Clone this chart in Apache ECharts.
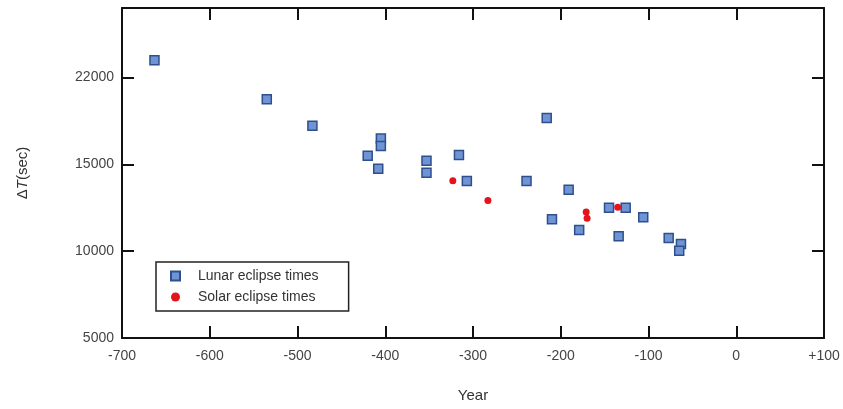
<!DOCTYPE html>
<html lang="en">

<head>
  <meta charset="UTF-8">
  <title>Delta T</title>
  <style>
    html, body { margin: 0; padding: 0; background: #fff; }
    #chart { width: 843px; height: 409px; }
  </style>
</head>

<body>
  <div id="chart"></div>
  <script src="https://cdn.jsdelivr.net/npm/echarts@6/dist/echarts.min.js"></script>
  <script>
    // data: [year, deltaT]
    var lunarData = [
      [-663, 20990], [-535, 18740], [-483, 17220], [-405, 16480], [-405, 16060],
      [-420, 15500], [-408, 14750], [-353, 15210], [-353, 14520], [-316, 15540],
      [-307, 14040], [-239, 14040], [-216, 17670], [-210, 11840], [-191, 13540],
      [-179, 11220], [-145, 12500], [-134, 10860], [-126, 12500], [-106, 11950],
      [-77, 10760], [-63, 10410], [-65, 10030]
    ];
    var solarData = [
      [-323, 14060], [-283, 12910], [-171, 12260], [-170, 11890], [-135, 12530]
    ];
    var yTickValues = [5000, 10000, 15000, 20000];
    var yTickLabels = ['5000', '10000', '15000', '22000'];

    var chart = echarts.init(document.getElementById('chart'));
    var font = 'Liberation Sans, Arial, sans-serif';
    var lineStyle = { color: '#111', width: 2 };

    var option = {
      animation: false,
      textStyle: { fontFamily: font },
      grid: { left: 122, right: 19, top: 8, bottom: 71 },
      legend: {
        orient: 'vertical',
        left: 156,
        top: 262,
        padding: [7, 30, 7, 14],
        itemWidth: 9,
        itemHeight: 9,
        itemGap: 7,
        borderColor: '#222',
        borderWidth: 1.5,
        textStyle: { fontSize: 14, color: '#333', padding: [0, 0, 0, 13] },
        data: ['Lunar eclipse times', 'Solar eclipse times']
      },
      xAxis: [{
        type: 'value',
        min: -700,
        max: 100,
        interval: 100,
        name: 'Year',
        nameLocation: 'middle',
        nameGap: 50,
        nameTextStyle: { fontSize: 15, color: '#333' },
        axisLine: { onZero: false, lineStyle: lineStyle },
        axisTick: { inside: true, length: 12, lineStyle: lineStyle },
        axisLabel: {
          fontSize: 14, color: '#444', margin: 11,
          formatter: function (v) { return v > 0 ? '+' + v : String(v); }
        },
        splitLine: { show: false }
      }, {
        type: 'value',
        position: 'top',
        min: -700,
        max: 100,
        interval: 100,
        axisLine: { onZero: false, lineStyle: lineStyle },
        axisTick: { inside: true, length: 12, lineStyle: lineStyle },
        axisLabel: { show: false },
        splitLine: { show: false }
      }],
      yAxis: [{
        type: 'value',
        min: 5000,
        max: 24000,
        interval: 5000,
        name: '{d|Δ}{t|T}{d|(sec)}',
        nameLocation: 'middle',
        nameGap: 92,
        nameTextStyle: {
          rich: {
            d: { fontSize: 15, color: '#333', fontFamily: font },
            t: { fontSize: 15, color: '#333', fontStyle: 'italic', fontFamily: font }
          }
        },
        axisLine: { onZero: false, lineStyle: lineStyle },
        axisTick: { inside: true, length: 12, lineStyle: lineStyle },
        axisLabel: {
          fontSize: 14, color: '#444', margin: 8,
          formatter: function (v) {
            var i = yTickValues.indexOf(v);
            return i >= 0 ? yTickLabels[i] : '';
          }
        },
        splitLine: { show: false }
      }, {
        type: 'value',
        position: 'right',
        min: 5000,
        max: 24000,
        interval: 5000,
        axisLine: { onZero: false, lineStyle: lineStyle },
        axisTick: { inside: true, length: 12, lineStyle: lineStyle },
        axisLabel: { show: false },
        splitLine: { show: false }
      }],
      series: [{
        name: 'Lunar eclipse times',
        type: 'scatter',
        symbol: 'rect',
        symbolSize: 9,
        itemStyle: { color: '#6f94d6', borderColor: '#2f4f8c', borderWidth: 1.5, opacity: 1 },
        data: lunarData
      }, {
        name: 'Solar eclipse times',
        type: 'scatter',
        symbol: 'circle',
        symbolSize: 7,
        itemStyle: { color: '#e3141c', opacity: 1 },
        data: solarData
      }]
    };
    chart.setOption(option);
  </script>
</body>

</html>
